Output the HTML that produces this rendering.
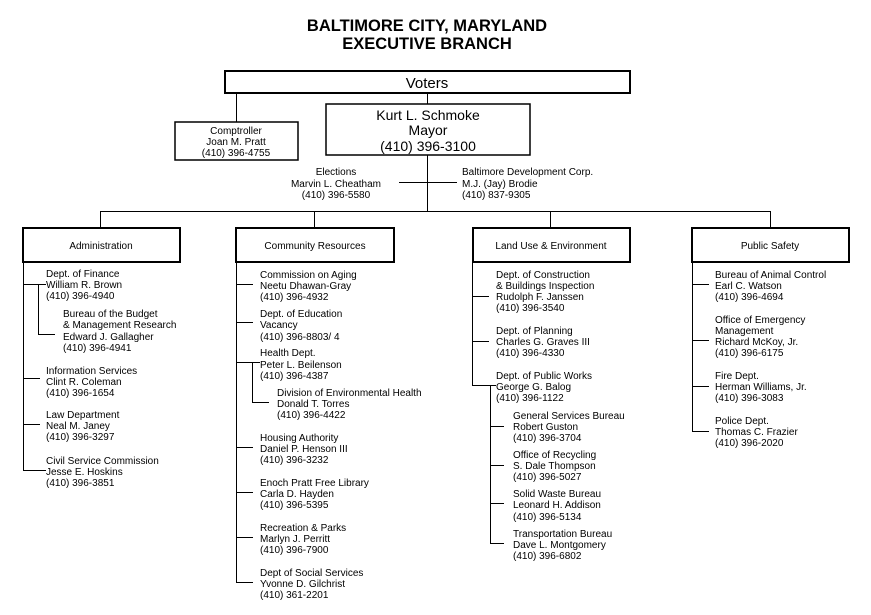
<!DOCTYPE html>
<html><head><meta charset="utf-8"><style>
html,body{margin:0;padding:0;background:#fff;}
svg{display:block;}
text{font-family:"Liberation Sans",Arial,sans-serif;fill:#000;}
.s{font-size:10px;}
.m{font-size:14px;}
</style></head><body>
<svg width="871" height="615" viewBox="0 0 871 615" xmlns="http://www.w3.org/2000/svg">
<g stroke="#000" fill="none">
<rect x="225" y="71" width="405" height="22" stroke-width="2"/>
<rect x="175" y="122" width="123" height="38" stroke-width="1.5"/>
<rect x="326" y="104" width="204" height="51" stroke-width="1.5"/>
<rect x="23" y="228" width="157" height="34" stroke-width="2"/>
<rect x="236" y="228" width="158" height="34" stroke-width="2"/>
<rect x="473" y="228" width="157" height="34" stroke-width="2"/>
<rect x="692" y="228" width="157" height="34" stroke-width="2"/>
<g stroke-width="1">
<path d="M236.5 93V122M427.5 93V104M427.5 155V211M399 182.5H457M100 211.5H770.5M100.5 211V228M314.5 211V228M550.5 211V228M770.5 211V228"/>
<path d="M23.5 262V470.5H46M23 284.5H46M38.5 284V334.5H55M23 378.5H40M23 424.5H40"/>
<path d="M236.5 262V582.5H253M236 284.5H253M236 322.5H253M236 362.5H260M252.5 362V402.5H269M236 447.5H253M236 492.5H253M236 537.5H253"/>
<path d="M472.5 262V385.5H496M472 296.5H489M472 341.5H489M490.5 385V543.5H504M490 426.5H504M490 465.5H504M490 503.5H504"/>
<path d="M692.5 262V431.5H709M692 284.5H709M692 340.5H709M692 386.5H709"/>
</g>
</g>
<text x="427" y="31" font-size="16.5" font-weight="bold" text-anchor="middle">BALTIMORE CITY, MARYLAND</text>
<text x="427" y="49" font-size="16.5" font-weight="bold" text-anchor="middle">EXECUTIVE BRANCH</text>
<text x="427" y="88" font-size="15" text-anchor="middle">Voters</text>
<g class="s" text-anchor="middle">
<text x="236" y="134">Comptroller</text><text x="236" y="145">Joan M. Pratt</text><text x="236" y="156">(410) 396-4755</text>
<text x="336" y="175">Elections</text><text x="336" y="187">Marvin L. Cheatham</text><text x="336" y="198">(410) 396-5580</text>
<text x="101" y="249">Administration</text>
<text x="315" y="249">Community Resources</text>
<text x="551" y="249">Land Use &amp; Environment</text>
<text x="770" y="249">Public Safety</text>
</g>
<g class="m" text-anchor="middle">
<text x="428" y="120">Kurt L. Schmoke</text><text x="428" y="135">Mayor</text><text x="428" y="151">(410) 396-3100</text>
</g>
<g class="s">
<text x="462" y="175">Baltimore Development Corp.</text><text x="462" y="187">M.J. (Jay) Brodie</text><text x="462" y="198">(410) 837-9305</text>

<text x="46" y="277">Dept. of Finance</text><text x="46" y="288">William R. Brown</text><text x="46" y="299">(410) 396-4940</text>
<text x="63" y="317">Bureau of the Budget</text><text x="63" y="328">&amp; Management Research</text><text x="63" y="340">Edward J. Gallagher</text><text x="63" y="351">(410) 396-4941</text>
<text x="46" y="374">Information Services</text><text x="46" y="385">Clint R. Coleman</text><text x="46" y="396">(410) 396-1654</text>
<text x="46" y="418">Law Department</text><text x="46" y="429">Neal M. Janey</text><text x="46" y="440">(410) 396-3297</text>
<text x="46" y="464">Civil Service Commission</text><text x="46" y="475">Jesse E. Hoskins</text><text x="46" y="486">(410) 396-3851</text>

<text x="260" y="278">Commission on Aging</text><text x="260" y="289">Neetu Dhawan-Gray</text><text x="260" y="300">(410) 396-4932</text>
<text x="260" y="317">Dept. of Education</text><text x="260" y="328">Vacancy</text><text x="260" y="340">(410) 396-8803/ 4</text>
<text x="260" y="356">Health Dept.</text><text x="260" y="368">Peter L. Beilenson</text><text x="260" y="379">(410) 396-4387</text>
<text x="277" y="396">Division of Environmental Health</text><text x="277" y="407">Donald T. Torres</text><text x="277" y="418">(410) 396-4422</text>
<text x="260" y="441">Housing Authority</text><text x="260" y="452">Daniel P. Henson III</text><text x="260" y="463">(410) 396-3232</text>
<text x="260" y="486">Enoch Pratt Free Library</text><text x="260" y="497">Carla D. Hayden</text><text x="260" y="508">(410) 396-5395</text>
<text x="260" y="531">Recreation &amp; Parks</text><text x="260" y="542">Marlyn J. Perritt</text><text x="260" y="553">(410) 396-7900</text>
<text x="260" y="576">Dept of Social Services</text><text x="260" y="587">Yvonne D. Gilchrist</text><text x="260" y="598">(410) 361-2201</text>

<text x="496" y="278">Dept. of Construction</text><text x="496" y="289">&amp; Buildings Inspection</text><text x="496" y="300">Rudolph F. Janssen</text><text x="496" y="311">(410) 396-3540</text>
<text x="496" y="334">Dept. of Planning</text><text x="496" y="345">Charles G. Graves III</text><text x="496" y="356">(410) 396-4330</text>
<text x="496" y="379">Dept. of Public Works</text><text x="496" y="390">George G. Balog</text><text x="496" y="401">(410) 396-1122</text>
<text x="513" y="419">General Services Bureau</text><text x="513" y="430">Robert Guston</text><text x="513" y="441">(410) 396-3704</text>
<text x="513" y="458">Office of Recycling</text><text x="513" y="469">S. Dale Thompson</text><text x="513" y="480">(410) 396-5027</text>
<text x="513" y="497">Solid Waste Bureau</text><text x="513" y="508">Leonard H. Addison</text><text x="513" y="520">(410) 396-5134</text>
<text x="513" y="537">Transportation Bureau</text><text x="513" y="548">Dave L. Montgomery</text><text x="513" y="559">(410) 396-6802</text>

<text x="715" y="278">Bureau of Animal Control</text><text x="715" y="289">Earl C. Watson</text><text x="715" y="300">(410) 396-4694</text>
<text x="715" y="323">Office of Emergency</text><text x="715" y="334">Management</text><text x="715" y="345">Richard McKoy, Jr.</text><text x="715" y="356">(410) 396-6175</text>
<text x="715" y="379">Fire Dept.</text><text x="715" y="390">Herman Williams, Jr.</text><text x="715" y="401">(410) 396-3083</text>
<text x="715" y="424">Police Dept.</text><text x="715" y="435">Thomas C. Frazier</text><text x="715" y="446">(410) 396-2020</text>
</g>
</svg>
</body></html>
